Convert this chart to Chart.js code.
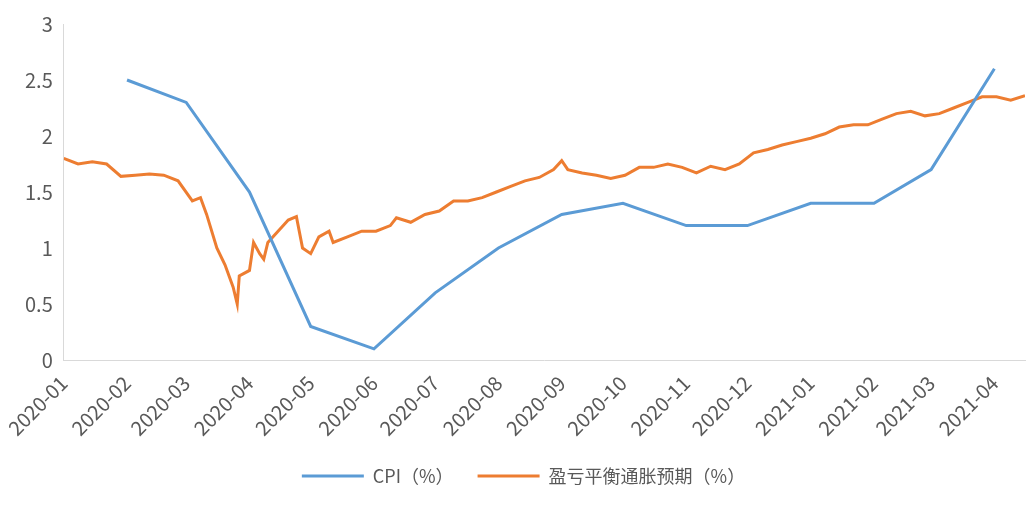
<!DOCTYPE html>
<html><head><meta charset="utf-8">
<script src="https://cdn.jsdelivr.net/npm/chart.js@4"></script>
<style>html,body{margin:0;padding:0;background:#fff}#w{width:1029px;height:509px}</style>
</head><body><div id="w"><canvas id="c"></canvas></div>
<script>
const monthTicks=["2020-01","2020-02","2020-03","2020-04","2020-05","2020-06","2020-07","2020-08","2020-09","2020-10","2020-11","2020-12","2021-01","2021-02","2021-03","2021-04"];
const cpiDates=["2020-02-01","2020-03-01","2020-04-01","2020-05-01","2020-06-01","2020-07-01","2020-08-01","2020-09-01","2020-10-01","2020-11-01","2020-12-01","2021-01-01","2021-02-01","2021-03-01","2021-04-01"];
const cpiValues=[2.5,2.3,1.5,0.3,0.1,0.6,1.0,1.3,1.4,1.2,1.2,1.4,1.4,1.7,2.6];
const beDates=["2020-01-01","2020-01-08","2020-01-15","2020-01-22","2020-01-29","2020-02-05","2020-02-12","2020-02-19","2020-02-26","2020-03-04","2020-03-08","2020-03-11","2020-03-16","2020-03-20","2020-03-24","2020-03-26","2020-03-27","2020-04-01","2020-04-03","2020-04-06","2020-04-08","2020-04-10","2020-04-15","2020-04-20","2020-04-24","2020-04-27","2020-05-01","2020-05-05","2020-05-10","2020-05-12","2020-05-19","2020-05-26","2020-06-02","2020-06-09","2020-06-12","2020-06-19","2020-06-26","2020-07-03","2020-07-10","2020-07-17","2020-07-24","2020-07-31","2020-08-07","2020-08-14","2020-08-21","2020-08-28","2020-09-01","2020-09-04","2020-09-11","2020-09-18","2020-09-25","2020-10-02","2020-10-09","2020-10-16","2020-10-23","2020-10-30","2020-11-06","2020-11-13","2020-11-20","2020-11-27","2020-12-04","2020-12-11","2020-12-18","2020-12-25","2021-01-01","2021-01-08","2021-01-15","2021-01-22","2021-01-29","2021-02-05","2021-02-12","2021-02-19","2021-02-26","2021-03-05","2021-03-12","2021-03-19","2021-03-26","2021-04-02","2021-04-09","2021-04-16"];
const beValues=[1.8,1.75,1.77,1.75,1.64,1.65,1.66,1.65,1.6,1.42,1.45,1.3,1.0,0.85,0.65,0.5,0.75,0.8,1.05,0.95,0.9,1.05,1.15,1.25,1.28,1.0,0.95,1.1,1.15,1.05,1.1,1.15,1.15,1.2,1.27,1.23,1.3,1.33,1.42,1.42,1.45,1.5,1.55,1.6,1.63,1.7,1.78,1.7,1.67,1.65,1.62,1.65,1.72,1.72,1.75,1.72,1.67,1.73,1.7,1.75,1.85,1.88,1.92,1.95,1.98,2.02,2.08,2.1,2.1,2.15,2.2,2.22,2.18,2.2,2.25,2.3,2.35,2.35,2.32,2.36];
const base=Date.UTC(2020,0,1);
const dayOf=s=>(Date.parse(s+"T00:00:00Z")-base)/86400000;
const tickPos=monthTicks.map(m=>dayOf(m+"-01"));
const font={family:"'Noto Sans CJK SC','Noto Sans',sans-serif",size:18};
const xfont={family:"'Noto Sans CJK SC','Noto Sans',sans-serif",size:20};
new Chart(document.getElementById('c'),{type:'line',
data:{datasets:[
{label:'CPI（%）',data:cpiDates.map((d,i)=>({x:dayOf(d),y:cpiValues[i]})),borderColor:'#5b9bd5',backgroundColor:'#5b9bd5',borderWidth:3,pointRadius:0,tension:0},
{label:'盈亏平衡通胀预期（%）',data:beDates.map((d,i)=>({x:dayOf(d),y:beValues[i]})),borderColor:'#ed7d31',backgroundColor:'#ed7d31',borderWidth:3,pointRadius:0,tension:0}]},
options:{responsive:true,maintainAspectRatio:false,animation:false,
layout:{padding:{left:22,right:4,top:24,bottom:14}},
plugins:{legend:{position:'bottom',labels:{font,color:'#595959',boxWidth:62,boxHeight:0,padding:24,
generateLabels:ch=>ch.data.datasets.map((ds,i)=>({text:ds.label,strokeStyle:ds.borderColor,fillStyle:ds.borderColor,lineWidth:3,datasetIndex:i,fontColor:'#595959'}))}},tooltip:{enabled:false}},
scales:{
x:{type:'linear',min:0,max:dayOf("2021-04-16"),
afterBuildTicks:a=>{a.ticks=tickPos.map(v=>({value:v}));},
ticks:{autoSkip:false,maxRotation:45,minRotation:45,font:xfont,color:'#595959',callback:(v,i)=>monthTicks[i]},
grid:{display:false},border:{color:'#d9d9d9'}},
y:{min:0,max:3,ticks:{stepSize:0.5,font:xfont,color:'#595959',callback:v=>String(v)},grid:{display:false},border:{color:'#d9d9d9'}}}}});
</script></body></html>
